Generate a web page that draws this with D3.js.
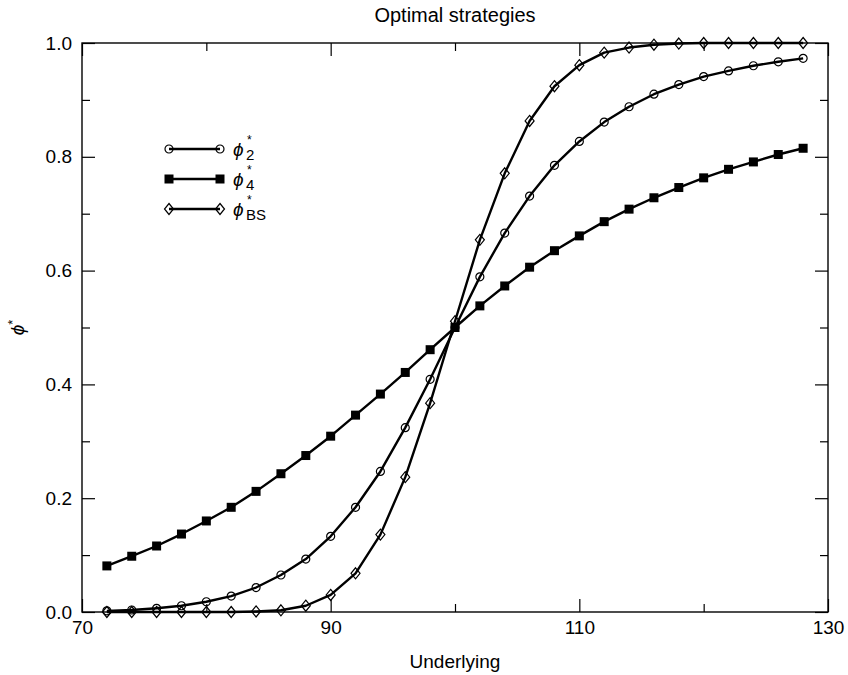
<!DOCTYPE html>
<html>
<head>
<meta charset="utf-8">
<script src="https://cdn.jsdelivr.net/npm/d3@7"></script>
<style>
  body { margin: 0; background: #fff; }
  svg text { font-family: "Liberation Sans", Arial, sans-serif; fill: #000; }
</style>
</head>
<body>
<div id="chart"></div>
<script>
// ===============================
// Data
// ===============================
const underlying = [72, 74, 76, 78, 80, 82, 84, 86, 88, 90, 92, 94, 96, 98, 100,
    102, 104, 106, 108, 110, 112, 114, 116, 118, 120, 122, 124, 126, 128];
const phi2 = [0.002, 0.0035, 0.0065, 0.011, 0.018, 0.028, 0.043, 0.065, 0.093, 0.133,
    0.184, 0.247, 0.324, 0.409, 0.5, 0.589, 0.666, 0.731, 0.785, 0.827,
    0.861, 0.888, 0.910, 0.927, 0.941, 0.951, 0.960, 0.967, 0.973];
const phi4 = [0.081, 0.098, 0.116, 0.137, 0.160, 0.184, 0.212, 0.243, 0.275, 0.309,
    0.346, 0.383, 0.421, 0.461, 0.500, 0.538, 0.573, 0.606, 0.635, 0.661,
    0.686, 0.708, 0.728, 0.746, 0.763, 0.778, 0.791, 0.804, 0.815];
const phiBS = [0.0, 0.0, 0.0, 0.0, 0.0, 0.0, 0.001, 0.003, 0.011, 0.030,
    0.068, 0.136, 0.237, 0.367, 0.511, 0.654, 0.771, 0.863, 0.924, 0.961,
    0.983, 0.992, 0.997, 0.999, 1.0, 1.0, 1.0, 1.0, 1.0];

const xMajor = [70, 90, 110, 130];
const xMinor = [80, 100, 120];
const yMajor = [0, 0.2, 0.4, 0.6, 0.8, 1.0];
const yMinor = [0.1, 0.3, 0.5, 0.7, 0.9];

const series = [
    { sub: "2", values: phi2, marker: "circle" },
    { sub: "4", values: phi4, marker: "square" },
    { sub: "BS", values: phiBS, marker: "diamond" }
];

// ===============================
// Layout
// ===============================
const W = 848, H = 675;
const margin = { top: 43, right: 20, bottom: 63, left: 82 };
const width = W - margin.left - margin.right;
const height = H - margin.top - margin.bottom;
const majorLen = 13, minorLen = 8;
const fontSize = 19;
const PHI = "\u03d5";

const svg = d3.select("#chart").append("svg")
    .attr("width", W)
    .attr("height", H);

const g = svg.append("g")
    .attr("transform", `translate(${margin.left},${margin.top})`);

const x = d3.scaleLinear().domain([70, 130]).range([0, width]);
const y = d3.scaleLinear().domain([0, 1]).range([height, 0]);

// axes: ticks point inward on all four sides
function styleAxis(sel) {
    sel.select(".domain").remove();
    sel.selectAll(".tick line").attr("stroke", "#000").attr("stroke-width", 1.2);
    sel.selectAll(".tick text").attr("font-size", fontSize).attr("font-family", "Liberation Sans, Arial, sans-serif");
}

g.append("g").attr("transform", `translate(0,${height})`)
    .call(d3.axisBottom(x).tickValues(xMajor).tickSize(-majorLen).tickPadding(9).tickFormat(d3.format("d")))
    .call(styleAxis);
g.append("g").attr("transform", `translate(0,${height})`)
    .call(d3.axisBottom(x).tickValues(xMinor).tickSize(-minorLen).tickFormat(""))
    .call(styleAxis);
g.append("g")
    .call(d3.axisTop(x).tickValues(xMajor).tickSize(-majorLen).tickFormat(""))
    .call(styleAxis);
g.append("g")
    .call(d3.axisTop(x).tickValues(xMinor).tickSize(-minorLen).tickFormat(""))
    .call(styleAxis);

g.append("g")
    .call(d3.axisLeft(y).tickValues(yMajor).tickSize(-majorLen).tickPadding(10).tickFormat(d3.format(".1f")))
    .call(styleAxis);
g.append("g")
    .call(d3.axisLeft(y).tickValues(yMinor).tickSize(-minorLen).tickFormat(""))
    .call(styleAxis);
g.append("g").attr("transform", `translate(${width},0)`)
    .call(d3.axisRight(y).tickValues(yMajor).tickSize(-majorLen).tickFormat(""))
    .call(styleAxis);
g.append("g").attr("transform", `translate(${width},0)`)
    .call(d3.axisRight(y).tickValues(yMinor).tickSize(-minorLen).tickFormat(""))
    .call(styleAxis);

// frame
g.append("rect")
    .attr("width", width)
    .attr("height", height)
    .attr("fill", "none")
    .attr("stroke", "#000")
    .attr("stroke-width", 1.4);

// markers
function drawMarker(sel, type) {
    if (type === "circle") {
        sel.append("circle").attr("r", 4)
            .attr("fill", "none").attr("stroke", "#000").attr("stroke-width", 1.2);
    } else if (type === "square") {
        sel.append("rect").attr("x", -4.5).attr("y", -4.5)
            .attr("width", 9).attr("height", 9).attr("fill", "#000");
    } else {
        sel.append("path").attr("d", "M0,-5.5L4.5,0L0,5.5L-4.5,0Z")
            .attr("fill", "none").attr("stroke", "#000").attr("stroke-width", 1.2);
    }
}

const line = d3.line()
    .x((d, i) => x(underlying[i]))
    .y(d => y(d));

series.forEach(s => {
    g.append("path")
        .attr("d", line(s.values))
        .attr("fill", "none")
        .attr("stroke", "#000")
        .attr("stroke-width", 2.4)
        .attr("stroke-linejoin", "round");

    g.selectAll(null)
        .data(s.values)
        .enter()
        .append("g")
        .attr("transform", (d, i) => `translate(${x(underlying[i])},${y(d)})`)
        .each(function () { drawMarker(d3.select(this), s.marker); });
});

// legend: phi with star above and subscript below, stacked
const legend = svg.append("g").attr("transform", "translate(169,149)");
series.forEach((s, i) => {
    const row = legend.append("g").attr("transform", `translate(0,${i * 30})`);
    row.append("line")
        .attr("x1", 0).attr("x2", 51)
        .attr("stroke", "#000").attr("stroke-width", 2.4);
    [0, 51].forEach(px => {
        drawMarker(row.append("g").attr("transform", `translate(${px},0)`), s.marker);
    });
    row.append("text")
        .attr("x", 64).attr("y", 7)
        .attr("font-size", fontSize)
        .attr("font-style", "italic")
        .text(PHI);
    row.append("text")
        .attr("x", 78).attr("y", -5)
        .attr("font-size", 12)
        .text("*");
    row.append("text")
        .attr("x", 77).attr("y", 11)
        .attr("font-size", 15)
        .text(s.sub);
});

// title and axis labels
svg.append("text")
    .attr("x", margin.left + width / 2)
    .attr("y", 22)
    .attr("text-anchor", "middle")
    .attr("font-size", 20)
    .text("Optimal strategies");

svg.append("text")
    .attr("x", margin.left + width / 2)
    .attr("y", 668)
    .attr("text-anchor", "middle")
    .attr("font-size", fontSize)
    .text("Underlying");

const yl = svg.append("text")
    .attr("transform", `translate(24,${margin.top + height / 2}) rotate(-90)`)
    .attr("text-anchor", "middle")
    .attr("font-size", fontSize);
yl.append("tspan").attr("font-style", "italic").text(PHI);
yl.append("tspan").attr("font-size", 13).attr("dy", -7).text("*");
</script>
</body>
</html>
